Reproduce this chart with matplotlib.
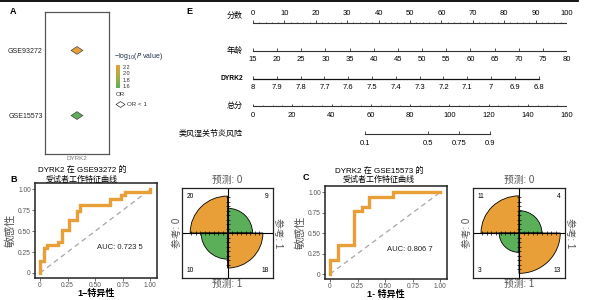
import numpy as np
import matplotlib
matplotlib.use("Agg")
import matplotlib.pyplot as plt
from matplotlib.path import Path
from matplotlib.patches import Wedge
from matplotlib.lines import Line2D
from matplotlib.colors import LinearSegmentedColormap, Normalize
from matplotlib.cm import ScalarMappable

plt.rcParams['font.family'] = ['Liberation Sans', 'Noto Sans CJK SC']

# ---- data ----
# panel A
datasets = ["GSE15573", "GSE93272"]
neglog_p = [1.55, 2.24]
cbar_ticks = [1.6, 1.8, 2.0, 2.2]
cbar_range = (1.54, 2.25)

# panel E (nomogram)
row_names = ["分数", "年龄", "DYRK2", "总分", "类风湿关节炎风险"]
points_ticks = list(range(0, 101, 10))
age_ticks = list(range(15, 81, 5))
dyrk2_ticks = [8, 7.9, 7.8, 7.7, 7.6, 7.5, 7.4, 7.3, 7.2, 7.1, 7, 6.9, 6.8]
dyrk2_max_points = 91
total_ticks = list(range(0, 161, 20))
risk_ticks = [0.1, 0.5, 0.75, 0.9]
risk_total_mid = 89      # total points at risk 0.5
risk_total_slope = 14.5  # total points per logit unit

# panels B / C (ROC)
roc_b_fpr = [0, 0, 0.033, 0.067, 0.167, 0.2, 0.267, 0.333, 0.367, 0.633, 0.733, 0.767, 1.0]
roc_b_tpr = [0, 0.148, 0.296, 0.333, 0.370, 0.519, 0.630, 0.741, 0.815, 0.889, 0.926, 0.963, 1.0]
roc_c_fpr = [0, 0, 0.071, 0.214, 0.286, 0.357, 0.571, 1.0]
roc_c_tpr = [0, 0.176, 0.353, 0.765, 0.824, 0.941, 1.0, 1.0]
auc_b = "0.723 5"
auc_c = "0.806 7"

# confusion tables: [pred0/ref0, pred0/ref1, pred1/ref0, pred1/ref1]
cm_b = [20, 9, 10, 18]
cm_d = [11, 4, 3, 13]

orange = '#E89F38'
green = '#5BAF58'

W, H = 611, 300
fig = plt.figure(figsize=(W / 100, H / 100), dpi=100)


def px(x, y, w, h):
    # figure rect from pixel box (left, top, width, height)
    return [x / W, 1 - (y + h) / H, w / W, h / H]


fig.add_artist(Line2D([0, 578 / W], [0.996, 0.996], transform=fig.transFigure,
                      color='black', lw=1.3))

# ---------------- panel A ----------------
cmap = LinearSegmentedColormap.from_list('og', [green, '#A9AD46', orange])
norm = Normalize(*cbar_range)
diamond = Path([(-1, 0), (0, 0.66), (1, 0), (0, -0.66), (-1, 0)], closed=True)

ax_a = fig.add_axes(px(45, 12, 64, 142))
ax_a.scatter([0, 0], [0, 1], c=neglog_p, cmap=cmap, norm=norm, marker=diamond,
             s=72, edgecolors='#444444', linewidths=0.5)
ax_a.set_xlim(-1, 1)
ax_a.set_ylim(-0.59, 1.59)
ax_a.set_yticks([0, 1])
ax_a.set_yticklabels(datasets, size=5, color='#222222')
ax_a.set_xticks([0])
ax_a.set_xticklabels(["DYRK2"], size=4.5, color='#777777')
ax_a.tick_params(length=0, pad=1.5)
for s in ax_a.spines.values():
    s.set_color('#555555')
    s.set_linewidth(0.9)

cax = fig.add_axes(px(116, 65, 4, 23))
cb = fig.colorbar(ScalarMappable(norm=norm, cmap=cmap), cax=cax, ticks=cbar_ticks)
cb.outline.set_visible(False)
cax.tick_params(labelsize=4, length=0, pad=2, colors='#333333')
fig.text(114 / W, 1 - 57 / H, r"−log$_{10}$($P$ value)", size=5, va='center',
         color='#1F2F45')
fig.text(116 / W, 1 - 95 / H, "OR", size=4.5, va='center', color='#333333')
fig.add_artist(Line2D([120 / W], [1 - 104 / H], transform=fig.transFigure, marker=diamond,
                      markersize=6.5, markerfacecolor='white', markeredgecolor='#333333',
                      markeredgewidth=0.5, linestyle='none'))
fig.text(127 / W, 1 - 104 / H, "OR < 1", size=4.5, va='center', color='#333333')

fig.text(10 / W, 1 - 12 / H, "A", size=6.5, weight='bold', va='center')
fig.text(186 / W, 1 - 12 / H, "E", size=6.5, weight='bold', va='center')
fig.text(10 / W, 1 - 179 / H, "B", size=6.5, weight='bold', va='center')
fig.text(303 / W, 1 - 178 / H, "C", size=6.5, weight='bold', va='center')

# ---------------- panel E (nomogram) ----------------
ax_e = fig.add_axes(px(253, 9, 314, 139))
ax_e.set_xlim(0, 100)
ax_e.set_ylim(4.5, -0.5)
ax_e.axis('off')
lc = '#333333'
off = 0.33
up = 0.1
ax_e.text(-3.2, -0.24, row_names[0], ha='right', va='center', size=5.8)
for i, name in enumerate(row_names[1:], start=1):
    ax_e.text(-3.2, i, name, ha='right', va='center', size=5.8 if i != 2 else 4.8,
              weight='bold' if i == 2 else 'normal')

# points
ax_e.plot([0, 100], [0, 0], color=lc, lw=0.8)
ax_e.vlines(points_ticks, 0, -up, color=lc, lw=0.6)
ax_e.vlines(np.arange(0, 101, 2), 0, -0.045, color=lc, lw=0.5)
for t in points_ticks:
    ax_e.text(t, -off, str(t), ha='center', va='center', size=5.5)

# age
age_pts = [(a - age_ticks[0]) / (age_ticks[-1] - age_ticks[0]) * 100 for a in age_ticks]
ax_e.plot([age_pts[0], age_pts[-1]], [1, 1], color=lc, lw=0.8)
ax_e.vlines(age_pts, 1, 1 - up, color=lc, lw=0.6)
for p, a in zip(age_pts, age_ticks):
    ax_e.text(p, 1 + off, str(a), ha='center', va='center', size=5.5)

# DYRK2
d_pts = [(dyrk2_ticks[0] - v) / (dyrk2_ticks[0] - dyrk2_ticks[-1]) * dyrk2_max_points
         for v in dyrk2_ticks]
ax_e.plot([d_pts[0], d_pts[-1]], [2, 2], color='#111111', lw=0.9)
ax_e.vlines(d_pts, 2, 2 - up, color=lc, lw=0.6)
for p, v in zip(d_pts, dyrk2_ticks):
    ax_e.text(p, 2 + off, f"{v:g}", ha='center', va='center', size=5.5)

# total points
t_pts = [t / total_ticks[-1] * 100 for t in total_ticks]
ax_e.plot([0, 100], [3, 3], color=lc, lw=0.8)
ax_e.vlines(t_pts, 3, 3 - up, color=lc, lw=0.6)
ax_e.vlines(np.arange(0, 161, 5) / total_ticks[-1] * 100, 3, 3 - 0.05, color=lc, lw=0.5)
for p, t in zip(t_pts, total_ticks):
    ax_e.text(p, 3 + off, str(t), ha='center', va='center', size=5.5)

# risk
r_tot = [risk_total_mid + risk_total_slope * np.log(r / (1 - r)) for r in risk_ticks]
r_pts = [t / total_ticks[-1] * 100 for t in r_tot]
ax_e.plot([r_pts[0], r_pts[-1]], [4, 4], color=lc, lw=0.8)
ax_e.vlines(r_pts, 4, 4 - up, color=lc, lw=0.6)
for p, r in zip(r_pts, risk_ticks):
    ax_e.text(p, 4 + off, f"{r:g}", ha='center', va='center', size=5.5)


# ---------------- ROC panels ----------------
def draw_roc(rect, fpr, tpr, auc, xlab):
    ax = fig.add_axes(rect)
    ax.plot([0, 1], [0, 1], color='#A6A6A6', ls=(0, (4, 3)), lw=0.9)
    ax.plot(fpr, tpr, drawstyle='steps-post', color=orange, lw=2.4,
            solid_joinstyle='miter')
    ax.text(0.52, 0.3, "AUC: " + auc, size=5.5, va='center', color='#222222')
    ax.set_xlim(-0.045, 1.06)
    ax.set_ylim(-0.06, 1.075)
    ticks = [0, 0.25, 0.5, 0.75, 1.0]
    labs = ["0", "0.25", "0.50", "0.75", "1.00"]
    ax.set_xticks(ticks)
    ax.set_xticklabels(labs)
    ax.set_yticks(ticks)
    ax.set_yticklabels(labs)
    ax.tick_params(labelsize=4.8, length=2, width=0.6, pad=1, colors='#555555')
    for s in ax.spines.values():
        s.set_color('#222222')
        s.set_linewidth(1.1)
    ax.set_xlabel(xlab, size=6.5, weight='bold', labelpad=0)
    ax.set_ylabel("敏感性", size=8, color='#555555', labelpad=2)
    return ax


draw_roc(px(35, 183, 122, 95), roc_b_fpr, roc_b_tpr, auc_b, "1−特异性")
draw_roc(px(325, 186, 122, 93), roc_c_fpr, roc_c_tpr, auc_c, "1- 特异性")
fig.text(82 / W, 1 - 175 / H, "DYRK2 在 GSE93272 的\n受试者工作特征曲线", ha='center',
         va='center', size=5.8, linespacing=1.25)
fig.text(379 / W, 1 - 175.5 / H, "DYRK2 在 GSE15573 的\n受试者工作特征曲线", ha='center',
         va='center', size=5.8, linespacing=1.25)


# ---------------- fourfold panels ----------------
def fourfold(rect, counts):
    ax = fig.add_axes(rect)
    ax.set_xlim(-1, 1)
    ax.set_ylim(-1, 1)
    total = sum(counts)
    spans = [(90, 180), (0, 90), (180, 270), (270, 360)]
    cols = [orange, green, green, orange]
    radii = [1.385 * np.sqrt(n / total) for n in counts]
    for r, (a1, a2), c in zip(radii, spans, cols):
        ax.add_patch(Wedge((0, 0), r, a1, a2, facecolor=c, edgecolor='black', lw=0.6))
    ax.axhline(0, color='black', lw=0.8)
    ax.axvline(0, color='black', lw=0.8)
    left = max(radii[0], radii[2])
    right = max(radii[1], radii[3])
    top = max(radii[0], radii[1])
    bottom = max(radii[2], radii[3])
    hx = np.concatenate([-np.arange(0.1, left, 0.1), np.arange(0.1, right, 0.1)])
    vy = np.concatenate([np.arange(0.1, top, 0.1), -np.arange(0.1, bottom, 0.1)])
    ax.plot(hx, np.zeros_like(hx), ls='none', marker='|', ms=2.5, mew=0.5, color='black')
    ax.plot(np.zeros_like(vy), vy, ls='none', marker='_', ms=2.5, mew=0.5, color='black')
    pos = [(-0.9, 0.9, 'left', 'top'), (0.9, 0.9, 'right', 'top'),
           (-0.9, -0.9, 'left', 'bottom'), (0.9, -0.9, 'right', 'bottom')]
    for n, (x, y, ha, va) in zip(counts, pos):
        ax.text(x, y, str(n), ha=ha, va=va, size=4.8)
    ax.set_xticks([])
    ax.set_yticks([])
    for s in ax.spines.values():
        s.set_color('#222222')
        s.set_linewidth(0.9)
    lab = dict(size=7, color='#555555', ha='center', va='center', transform=ax.transAxes)
    ax.text(0.5, 1.09, "预测: 0", **lab)
    ax.text(0.5, -0.07, "预测: 1", **lab)
    ax.text(-0.06, 0.5, "参考: 0", rotation=90, **lab)
    ax.text(1.055, 0.5, "参考: 1", rotation=-90, **lab)
    return ax


fourfold(px(182, 188, 91, 90), cm_b)
fourfold(px(473, 188, 92, 90), cm_d)

fig.savefig("out.png", dpi=100)
